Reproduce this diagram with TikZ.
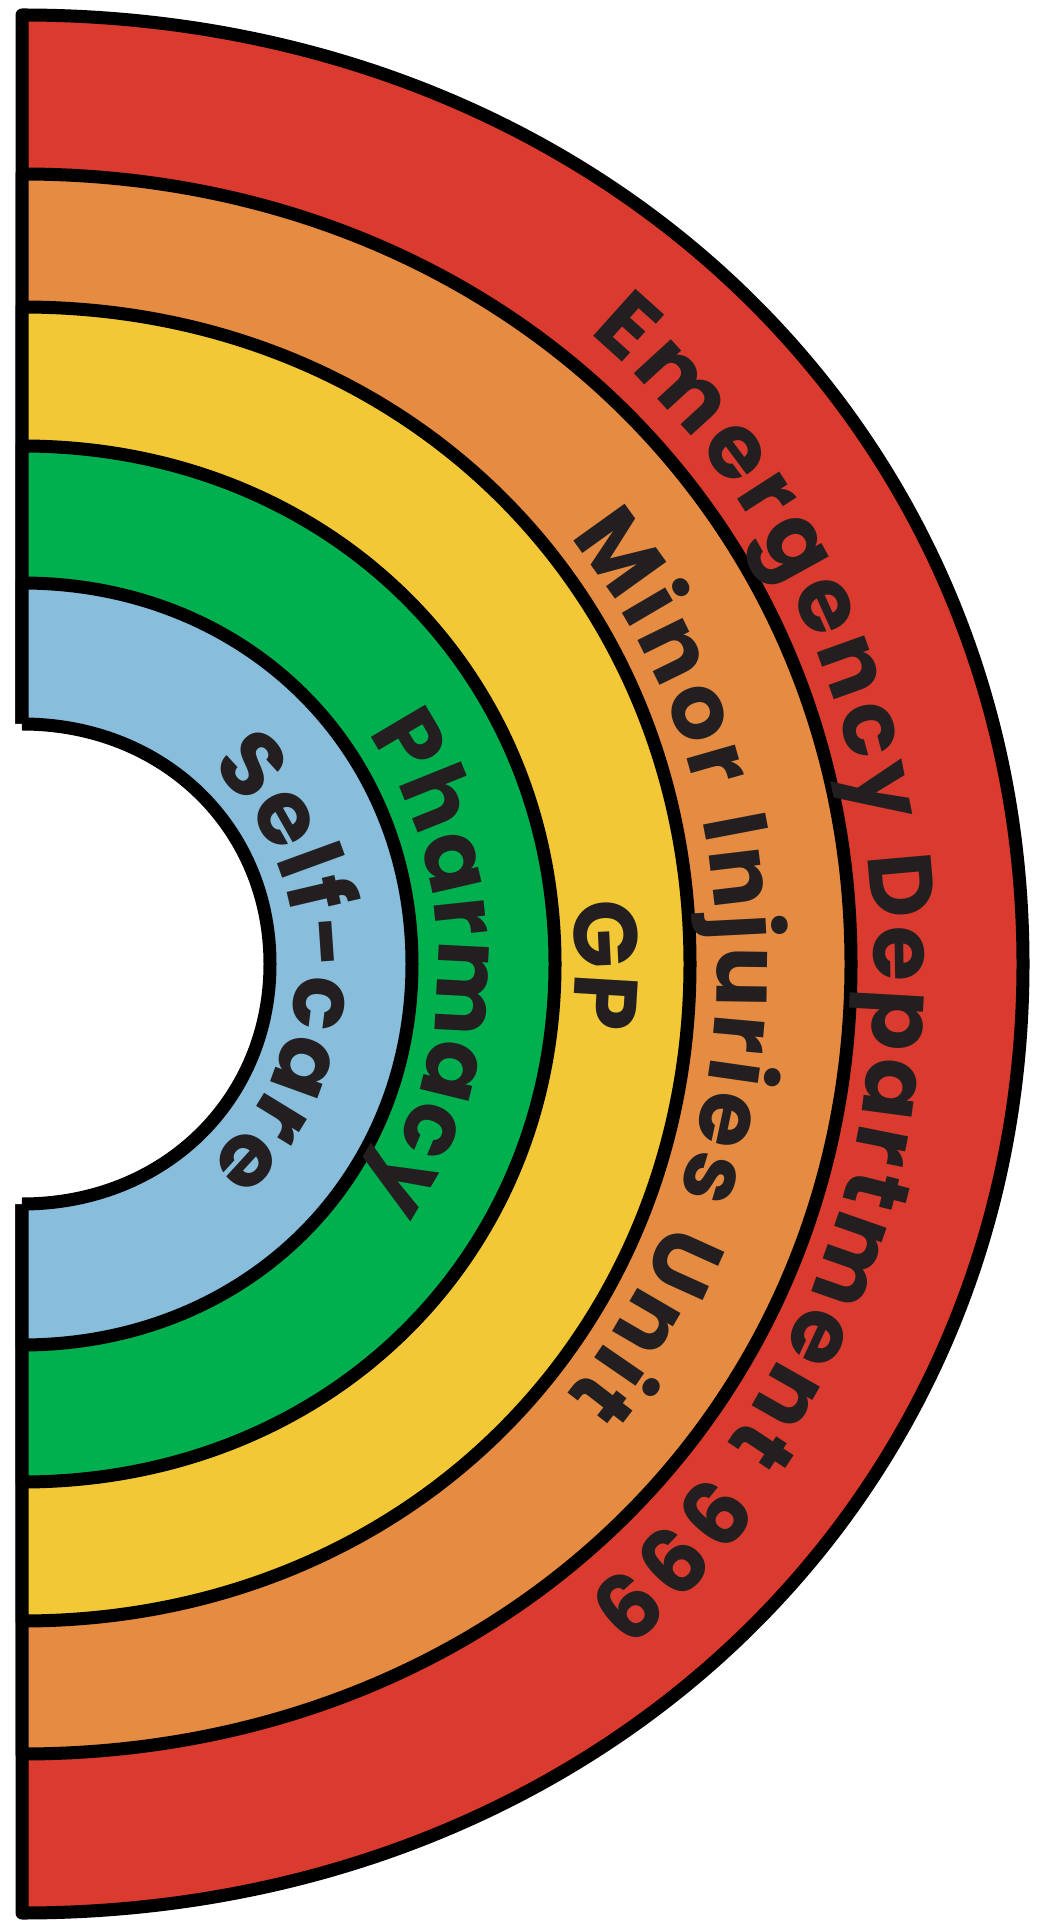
\documentclass[tikz,border=0pt]{standalone}
\usepackage{fontspec}
\newfontfamily\bandfont{Poppins}
\usetikzlibrary{decorations.text}
\definecolor{edred}{HTML}{DB3B2F}
\definecolor{miuorange}{HTML}{E68C42}
\definecolor{gpyellow}{HTML}{F2C837}
\definecolor{pharmgreen}{HTML}{00B04F}
\definecolor{selfblue}{HTML}{88BEDB}
\definecolor{inktext}{HTML}{231F20}

\begin{document}
\begin{tikzpicture}[x=1pt,y=1pt,
  band/.style={draw=black,line width=13pt,line join=round},
  bandtext/.style 2 args={decorate,decoration={text along path,text align=center,text color=inktext,
    text={|\bandfont\bfseries\fontsize{90}{90}\selectfont\kern#2|#1}}}]
\useasboundingbox (-22,-960) rectangle (1016,964);
\foreach \rx/\ry/\col in {1001/949/edred,829/790/miuorange,668/657/gpyellow,533/518/pharmgreen,390/381/selfblue}
  {\filldraw[band,fill=\col] (0,-\ry) .. controls ({.57*\rx},-\ry) and (\rx,{-.57*\ry}) .. (\rx,0)
     .. controls (\rx,{.57*\ry}) and ({.57*\rx},\ry) .. (0,\ry) -- cycle;}
\fill[white] (-12,-240) -- (0,-240) .. controls (141,-240) and (248,-137) .. (248,0)
  .. controls (248,137) and (141,240) .. (0,240) -- (-12,240) -- cycle;
\draw[band] (0,-240) .. controls (141,-240) and (248,-137) .. (248,0)
  .. controls (248,137) and (141,240) .. (0,240);
\foreach \rx/\ry/\lbl/\trk in {852/832/Emergency Department 999/6pt,695/676/Minor Injuries Unit/5pt,
    553/540/GP/2pt,416/404/Pharmacy/1pt,274/266/Self-care/2pt}
  {\path[bandtext={\lbl}{\trk}] (0,\ry) .. controls ({.57*\rx},\ry) and (\rx,{.57*\ry}) .. (\rx,0)
     .. controls (\rx,{-.57*\ry}) and ({.57*\rx},-\ry) .. (0,-\ry);}
\end{tikzpicture}
\end{document}
